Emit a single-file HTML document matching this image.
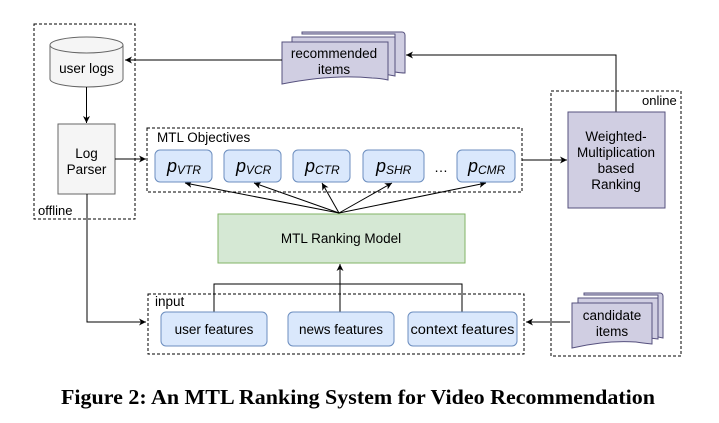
<!DOCTYPE html>
<html><head><style>
html,body{margin:0;padding:0;background:#fff;}
svg text{font-family:"Liberation Sans",Arial,sans-serif;}
</style></head><body>
<svg width="719" height="418" viewBox="0 0 719 418" xmlns="http://www.w3.org/2000/svg">
<defs>
<marker id="a" markerWidth="8" markerHeight="8" refX="7" refY="4" orient="auto" markerUnits="userSpaceOnUse">
<path d="M0,0.5 L7,4 L0,7.5 L2,4 Z" fill="#000"/></marker>
</defs>
<g fill="none" stroke="#000" stroke-width="1" stroke-dasharray="3,2">
<rect x="34" y="24" width="101" height="195"/>
<rect x="147" y="128" width="375" height="64"/>
<rect x="148" y="294" width="376" height="60"/>
<rect x="551" y="91" width="130" height="265"/>
</g>
<path d="M50,45 L50,79 A36.5,8 0 0 0 123,79 L123,45" fill="#f5f5f5" stroke="#666"/>
<ellipse cx="86.5" cy="45" rx="36.5" ry="8" fill="#f5f5f5" stroke="#666"/>
<text x="86.5" y="73" font-size="13.5" text-anchor="middle">user logs</text>
<rect x="58" y="124" width="57" height="70" fill="#f5f5f5" stroke="#666"/>
<text x="86.5" y="158" font-size="13.5" text-anchor="middle">Log</text>
<text x="86.5" y="174" font-size="13.5" text-anchor="middle">Parser</text>
<text x="38" y="215" font-size="13">offline</text>
<g fill="#d0cee2" stroke="#56517e">
<path d="M302,32 h100 a3,3 0 0 1 3,3 v38 q-4,0 -10,-1 v-38 h-93 z"/>
<path d="M292,37 h103 v39 q-50,-10 -103,2 z"/>
<path d="M282,42 h106 v38 q-10,-2 -16,-2 q-40,-4 -90,6 z"/>
</g>
<text x="334" y="58" font-size="13.5" text-anchor="middle">recommended</text>
<text x="334" y="74" font-size="13.5" text-anchor="middle">items</text>
<g stroke="#000" fill="none">
<line x1="282" y1="60" x2="125" y2="60" marker-end="url(#a)"/>
<polyline points="616,112 616,55 406,55" marker-end="url(#a)"/>
<line x1="86.5" y1="87" x2="86.5" y2="123" marker-end="url(#a)"/>
<line x1="115" y1="159" x2="146" y2="159" marker-end="url(#a)"/>
<line x1="522" y1="160" x2="567" y2="160" marker-end="url(#a)"/>
<polyline points="87,194 87,322 146,322" marker-end="url(#a)"/>
<line x1="570" y1="322" x2="526" y2="322" marker-end="url(#a)"/>
<polyline points="214,312 214,284 462,284 462,312"/>
<line x1="340" y1="312" x2="340" y2="264" marker-end="url(#a)"/>
<line x1="339" y1="213" x2="185" y2="183" marker-end="url(#a)"/>
<line x1="339" y1="213" x2="254" y2="183" marker-end="url(#a)"/>
<line x1="339" y1="213" x2="322" y2="183" marker-end="url(#a)"/>
<line x1="339" y1="213" x2="392" y2="183" marker-end="url(#a)"/>
<line x1="339" y1="213" x2="486" y2="183" marker-end="url(#a)"/>
</g>
<text x="157" y="142" font-size="13.5">MTL Objectives</text>
<g fill="#dae8fc" stroke="#6c8ebf">
<rect x="155" y="150" width="57" height="32" rx="5"/>
<rect x="224" y="150" width="57" height="32" rx="5"/>
<rect x="293" y="150" width="57" height="32" rx="5"/>
<rect x="363" y="150" width="61" height="32" rx="5"/>
<rect x="457" y="150" width="58" height="32" rx="5"/>
</g>
<g font-size="18" font-style="italic">
<text x="167" y="172">p<tspan font-size="12" dy="2">VTR</tspan></text>
<text x="236" y="172">p<tspan font-size="12" dy="2">VCR</tspan></text>
<text x="305" y="172">p<tspan font-size="12" dy="2">CTR</tspan></text>
<text x="376" y="172">p<tspan font-size="12" dy="2">SHR</tspan></text>
<text x="468" y="172">p<tspan font-size="12" dy="2">CMR</tspan></text>
</g>
<text x="441" y="172" font-size="14" text-anchor="middle">…</text>
<rect x="568" y="112" width="97" height="96" fill="#d0cee2" stroke="#56517e"/>
<text x="642" y="105" font-size="13">online</text>
<g font-size="13.5" text-anchor="middle">
<text x="616" y="141">Weighted-</text>
<text x="616" y="157">Multiplication</text>
<text x="616" y="173">based</text>
<text x="616" y="189">Ranking</text>
</g>
<rect x="218" y="214" width="247" height="49" fill="#d5e8d4" stroke="#82b366"/>
<text x="341" y="243" font-size="13.5" text-anchor="middle">MTL Ranking Model</text>
<text x="155" y="306" font-size="13.5">input</text>
<g fill="#dae8fc" stroke="#6c8ebf">
<rect x="161" y="312" width="106" height="34" rx="5"/>
<rect x="288" y="312" width="106" height="34" rx="5"/>
<rect x="408" y="312" width="109" height="34" rx="5"/>
</g>
<g font-size="13.5" text-anchor="middle">
<text x="214" y="334">user features</text>
<text x="341" y="334">news features</text>
<text x="462.5" y="334" textLength="104" lengthAdjust="spacingAndGlyphs">context features</text>
</g>
<g fill="#d0cee2" stroke="#56517e">
<path d="M584,293 h76 a3,3 0 0 1 3,3 v42 l-5,-1 v-42 h-74 z"/>
<path d="M578,298 h80 v41 q-40,-6 -80,2 z"/>
<path d="M572,303 h80 v41 q-10,-1 -16,-2 q-30,-2 -64,6 z"/>
</g>
<g font-size="13.5" text-anchor="middle">
<text x="612" y="320">candidate</text>
<text x="612" y="336">items</text>
</g>
<text x="358" y="404" font-size="21" font-weight="bold" text-anchor="middle" textLength="594" lengthAdjust="spacingAndGlyphs" style="font-family:'Liberation Serif',serif">Figure 2: An MTL Ranking System for Video Recommendation</text>
</svg>
</body></html>
